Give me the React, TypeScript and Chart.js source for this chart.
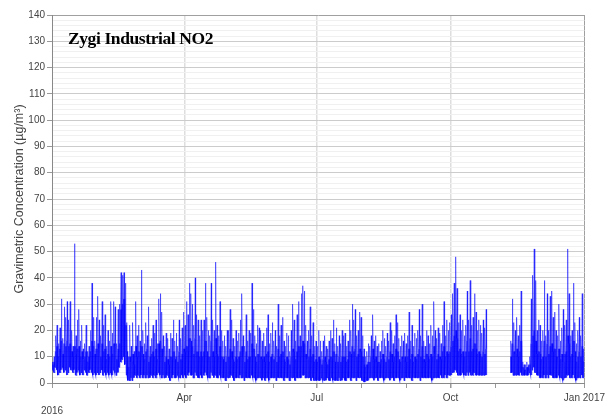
import React, { useEffect, useRef } from "react";
import { Chart, registerables } from "chart.js";

Chart.register(...registerables);

// ---- Axis ticks (day of year, 2016) ----
const monthStarts = [0, 31, 60, 91, 121, 152, 182, 213, 244, 274, 305, 335];
const xTickDays = [0, 31, 60, 91, 121, 152, 182, 213, 244, 274, 305, 335, 366];
const xTickLabels: (string | string[])[] = [["", "2016"], "", "", "Apr", "", "", "Jul", "", "", "Oct", "", "", "Jan 2017"];
const yMajorTicks = [0, 10, 20, 30, 40, 50, 60, 70, 80, 90, 100, 110, 120, 130, 140];

// ---- Daily peak values (µg/m³) ----
const peakJan = [8, 10, 18, 22, 15, 21, 32, 17, 29, 25, 31, 24, 31, 20, 14, 53, 18, 24, 28, 16, 22, 13, 15, 22, 12, 14, 20, 38, 25, 16, 25];
const peakFeb = [33, 24, 18, 31, 22, 26, 14, 20, 16, 31, 19, 31, 29, 15, 28, 30, 42, 41, 42, 38, 23, 10, 22, 14, 23, 12, 31, 18, 22];
const peakMar = [16, 43, 20, 15, 23, 18, 29, 14, 17, 22, 19, 24, 15, 32, 34, 27, 18, 14, 19, 17, 13, 19, 17, 24, 16, 19, 14, 24, 17, 21, 27];
const peakApr = [22, 31, 26, 38, 34, 30, 22, 40, 26, 24, 18, 24, 20, 24, 38, 25, 20, 18, 38, 24, 20, 46, 22, 18, 31, 20, 16, 18, 14, 20];
const peakMay = [20, 28, 24, 17, 14, 20, 16, 19, 24, 34, 18, 14, 26, 16, 20, 19, 38, 28, 18, 15, 22, 21, 20, 16, 19, 14, 21, 26, 15, 19, 23];
const peakJun = [16, 20, 14, 30, 18, 22, 25, 16, 14, 19, 18, 12, 20, 30, 24, 16, 26, 31, 18, 34, 37, 35, 22, 16, 20, 29, 18, 23, 14, 16];
const peakJul = [14, 20, 16, 12, 16, 18, 14, 13, 16, 20, 17, 24, 15, 21, 14, 18, 15, 20, 18, 19, 14, 16, 24, 20, 30, 24, 28, 18, 20, 27, 25];
const peakAug = [18, 13, 10, 12, 15, 14, 18, 26, 16, 18, 14, 15, 12, 16, 20, 17, 14, 19, 16, 23, 20, 15, 18, 26, 23, 17, 14, 18, 16, 19, 15];
const peakSep = [18, 27, 16, 22, 14, 19, 17, 20, 28, 18, 30, 16, 14, 20, 18, 15, 22, 18, 31, 20, 17, 21, 19, 15, 22, 31, 18, 24, 20, 23];
const peakOct = [26, 34, 38, 48, 36, 23, 26, 20, 24, 18, 22, 35, 24, 39, 22, 25, 34, 27, 20, 24, 22, 19, 24, 21, 28, null, null, null, null, null, null];
const peakNov = [null, null, null, null, null, null, null, null, null, null, 16, 32, 23, 20, 25, 18, 22, 35, 8, 7, 7, 8, 7, 10, 32, 41, 51, 39, 20, 24];
const peakDec = [22, 16, 20, 39, 18, 34, 20, 33, 35, 25, 27, 20, 18, 30, 16, 21, 28, 22, 24, 51, 34, 18, 20, 38, 23, 15, 20, 25, 18, 34, 13];

// ---- Daily typical (core) values ----
const midJan = [7, 8, 12, 14, 10, 13, 16, 11, 15, 14, 16, 14, 15, 12, 10, 14, 11, 13, 14, 10, 12, 9, 10, 12, 8, 10, 12, 16, 14, 11, 13];
const midFeb = [15, 13, 10, 15, 12, 13, 9, 11, 10, 14, 11, 15, 14, 9, 13, 15, 28, 30, 32, 22, 12, 6, 10, 8, 11, 7, 14, 10, 12];
const midMar = [9, 14, 11, 9, 12, 13, 8, 10, 11, 12, 10, 13, 9, 15, 16, 13, 10, 8, 10, 9, 7, 10, 9, 12, 9, 10, 8, 12, 9, 11, 13];
const midApr = [12, 14, 12, 17, 16, 14, 11, 17, 12, 12, 10, 12, 10, 12, 16, 12, 10, 10, 16, 12, 10, 17, 11, 10, 14, 10, 9, 10, 8, 10];
const midMay = [10, 13, 12, 9, 8, 10, 9, 10, 12, 14, 10, 8, 12, 9, 10, 10, 15, 13, 10, 8, 11, 11, 10, 9, 10, 8, 11, 12, 8, 10, 11];
const midJun = [9, 10, 8, 13, 10, 11, 12, 9, 8, 10, 9, 7, 10, 13, 12, 9, 12, 14, 10, 14, 16, 15, 11, 9, 10, 13, 10, 11, 8, 9];
const midJul = [8, 10, 9, 7, 9, 10, 8, 7, 9, 10, 9, 12, 8, 11, 8, 10, 8, 10, 10, 10, 8, 9, 12, 11, 14, 12, 13, 10, 11, 13, 12];
const midAug = [10, 7, 6, 7, 8, 8, 10, 13, 9, 10, 8, 8, 7, 9, 11, 9, 8, 10, 9, 12, 11, 8, 10, 13, 12, 9, 8, 10, 9, 10, 8];
const midSep = [10, 13, 9, 11, 8, 10, 9, 11, 13, 10, 14, 9, 8, 11, 10, 9, 11, 10, 14, 11, 9, 11, 10, 9, 12, 14, 10, 12, 11, 12];
const midOct = [14, 16, 18, 20, 17, 12, 13, 11, 12, 10, 12, 16, 12, 17, 12, 13, 15, 13, 11, 12, 11, 10, 12, 11, 13, null, null, null, null, null, null];
const midNov = [null, null, null, null, null, null, null, null, null, null, 10, 15, 12, 11, 13, 10, 12, 16, 6, 5, 5, 6, 5, 7, 15, 18, 20, 16, 11, 12];
const midDec = [11, 9, 10, 16, 10, 15, 11, 14, 15, 12, 13, 10, 10, 13, 9, 11, 8, 11, 12, 18, 15, 10, 11, 16, 12, 8, 10, 12, 10, 14, 8];

// ---- Daily minimum values ----
const lowJan = [5, 4, 6, 5, 3, 4, 5, 6, 4, 5, 3, 4, 6, 5, 4, 5, 3, 4, 5, 3, 4, 3, 5, 4, 3, 4, 5, 4, 3, 4, 3];
const lowFeb = [4, 3, 4, 5, 3, 4, 3, 4, 3, 4, 3, 5, 4, 3, 4, 6, 8, 9, 10, 7, 3, 1, 1, 2, 1, 2, 3, 2, 3];
const lowMar = [2, 3, 2, 3, 2, 3, 2, 2, 3, 2, 3, 2, 3, 4, 3, 2, 3, 2, 2, 3, 2, 1, 2, 3, 2, 2, 3, 2, 2, 3, 2];
const lowApr = [3, 2, 3, 4, 3, 3, 2, 4, 3, 2, 2, 3, 2, 3, 4, 3, 2, 2, 4, 3, 2, 3, 2, 2, 3, 2, 2, 2, 1, 2];
const lowMay = [2, 2, 3, 2, 1, 2, 2, 2, 3, 2, 2, 1, 2, 2, 2, 2, 3, 2, 2, 1, 2, 2, 2, 1, 2, 1, 2, 2, 1, 2, 2];
const lowJun = [2, 2, 1, 2, 2, 2, 2, 1, 2, 2, 2, 1, 2, 2, 2, 1, 2, 2, 2, 2, 3, 3, 2, 2, 2, 2, 1, 2, 1, 1];
const lowJul = [1, 1, 1, 2, 1, 1, 1, 2, 1, 1, 2, 1, 1, 1, 1, 2, 1, 1, 2, 1, 1, 2, 2, 1, 2, 2, 2, 1, 2, 2, 2];
const lowAug = [1, 0.5, 0.5, 1, 1, 2, 2, 2, 1, 2, 2, 1, 2, 2, 2, 1, 2, 2, 2, 1, 2, 2, 1, 2, 2, 2, 1, 2, 2, 1, 2];
const lowSep = [2, 2, 2, 1, 2, 2, 2, 2, 2, 1, 2, 2, 2, 2, 2, 2, 2, 1, 2, 2, 2, 2, 2, 3, 2, 2, 3, 2, 3, 3];
const lowOct = [3, 4, 4, 5, 4, 3, 3, 3, 4, 3, 3, 4, 3, 4, 3, 3, 4, 3, 3, 3, 3, 3, 3, 3, 3, null, null, null, null, null, null];
const lowNov = [null, null, null, null, null, null, null, null, null, null, 4, 4, 3, 3, 3, 3, 3, 4, 3, 3, 3, 3, 3, 4, 3, 5, 6, 4, 3, 3];
const lowDec = [2, 2, 2, 3, 2, 3, 2, 3, 3, 2, 2, 2, 2, 3, 2, 2, 1, 2, 2, 3, 3, 2, 2, 3, 2, 1, 2, 2, 2, 3, 2];

const peaks = [peakJan, peakFeb, peakMar, peakApr, peakMay, peakJun, peakJul, peakAug, peakSep, peakOct, peakNov, peakDec];
const mids = [midJan, midFeb, midMar, midApr, midMay, midJun, midJul, midAug, midSep, midOct, midNov, midDec];
const lows = [lowJan, lowFeb, lowMar, lowApr, lowMay, lowJun, lowJul, lowAug, lowSep, lowOct, lowNov, lowDec];

// Full daily range (min -> max -> min) and the typical core (min -> typical -> min)
function buildPoints(which: "full" | "core") {
  const pts: { x: number; y: number | null }[] = [];
  peaks.forEach((monthPeaks, m) => {
    monthPeaks.forEach((pk, j) => {
      const day = monthStarts[m] + j;
      const lo = lows[m][j];
      const md = mids[m][j];
      const ok = pk !== null && lo !== null && md !== null;
      let seq: (number | null)[];
      if (!ok) seq = [null, null, null, null];
      else if (which === "full") seq = [lo, md, pk, md];
      else seq = [lo, md, lo, md];
      seq.forEach((v, k) => pts.push({ x: day + k * 0.25 + (which === "core" ? 0.12 : 0), y: v }));
    });
  });
  return pts;
}

export default function App() {
  const ref = useRef<HTMLCanvasElement>(null);
  useEffect(() => {
    if (!ref.current) return;
    const chart = new Chart(ref.current, {
      type: "line",
      data: {
        datasets: [
          {
            data: buildPoints("full") as any,
            borderColor: "rgba(0,0,255,0.5)",
            borderWidth: 1,
            pointRadius: 0,
            spanGaps: false,
            tension: 0,
          },
          {
            data: buildPoints("core") as any,
            borderColor: "rgba(0,0,255,0.75)",
            borderWidth: 1.1,
            pointRadius: 0,
            spanGaps: false,
            tension: 0,
          },
        ],
      },
      options: {
        animation: false,
        responsive: false,
        maintainAspectRatio: false,
        parsing: false,
        normalized: true,
        layout: { padding: { left: 8, right: 0, top: 15, bottom: 0 } },
        plugins: { legend: { display: false }, tooltip: { enabled: false } },
        scales: {
          x: {
            type: "linear",
            min: 0,
            max: 366,
            afterBuildTicks: (scale: any) => {
              scale.ticks = xTickDays.map((v) => ({ value: v }));
            },
            afterFit: (scale: any) => {
              scale.height = 36;
            },
            ticks: {
              autoSkip: false,
              maxRotation: 0,
              padding: 3,
              color: "#444",
              font: { family: "'Liberation Sans', Arial, sans-serif", size: 10, lineHeight: 1.35 },
              callback: (value: any) => {
                const i = xTickDays.indexOf(Number(value));
                return i >= 0 ? xTickLabels[i] : "";
              },
            },
            grid: {
              color: (ctx: any) => {
                const v = ctx.tick ? ctx.tick.value : -1;
                if (v === 91 || v === 182 || v === 274) return "#dedede";
                if (v === 366) return "#a0a0a0";
                return "rgba(0,0,0,0)";
              },
              lineWidth: (ctx: any) => {
                const v = ctx.tick ? ctx.tick.value : -1;
                return v === 91 || v === 182 || v === 274 ? 1.5 : 1;
              },
              tickColor: "#999",
              tickLength: 5,
            },
            border: { color: "#888", width: 1 },
          },
          y: {
            min: 0,
            max: 140,
            afterBuildTicks: (scale: any) => {
              const t: { value: number }[] = [];
              for (let i = 0; i < yMajorTicks.length; i++) {
                t.push({ value: yMajorTicks[i] });
                if (i < yMajorTicks.length - 1) {
                  for (let k = 2; k < 10; k += 2) t.push({ value: yMajorTicks[i] + k });
                }
              }
              scale.ticks = t;
            },
            afterFit: (scale: any) => {
              scale.width = 44;
            },
            ticks: {
              autoSkip: false,
              padding: 2,
              color: "#444",
              font: { family: "'Liberation Sans', Arial, sans-serif", size: 10 },
              callback: (value: any) => (yMajorTicks.includes(Number(value)) ? String(value) : ""),
            },
            grid: {
              color: (ctx: any) => {
                const v = ctx.tick ? ctx.tick.value : 0;
                if (v === 140) return "#a0a0a0";
                return v % 10 === 0 ? "#cccccc" : "#f0f0f0";
              },
              tickColor: (ctx: any) => {
                const v = ctx.tick ? ctx.tick.value : 0;
                return v % 10 === 0 ? "#999" : "rgba(0,0,0,0)";
              },
              tickLength: 5,
            },
            border: { color: "#888", width: 1 },
            title: {
              display: true,
              text: "Gravimetric Concentration (µg/m³)",
              color: "#444",
              font: { family: "'Liberation Sans', Arial, sans-serif", size: 12.5 },
              padding: { top: 4, bottom: 0 },
            },
          },
        },
      },
    });
    return () => chart.destroy();
  }, []);

  return (
    <div style={{ position: "fixed", left: 0, top: 0, width: 608, height: 419, background: "#fff" }}>
      <canvas ref={ref} width={608} height={419} style={{ width: 608, height: 419 }} />
      <div
        style={{
          position: "absolute",
          left: 68,
          top: 28,
          fontFamily: "'Liberation Serif', 'Times New Roman', serif",
          fontWeight: "bold",
          fontSize: 17.5,
          color: "#000",
          whiteSpace: "nowrap",
          letterSpacing: -0.4,
        }}
      >
        Zygi Industrial NO2
      </div>
    </div>
  );
}
